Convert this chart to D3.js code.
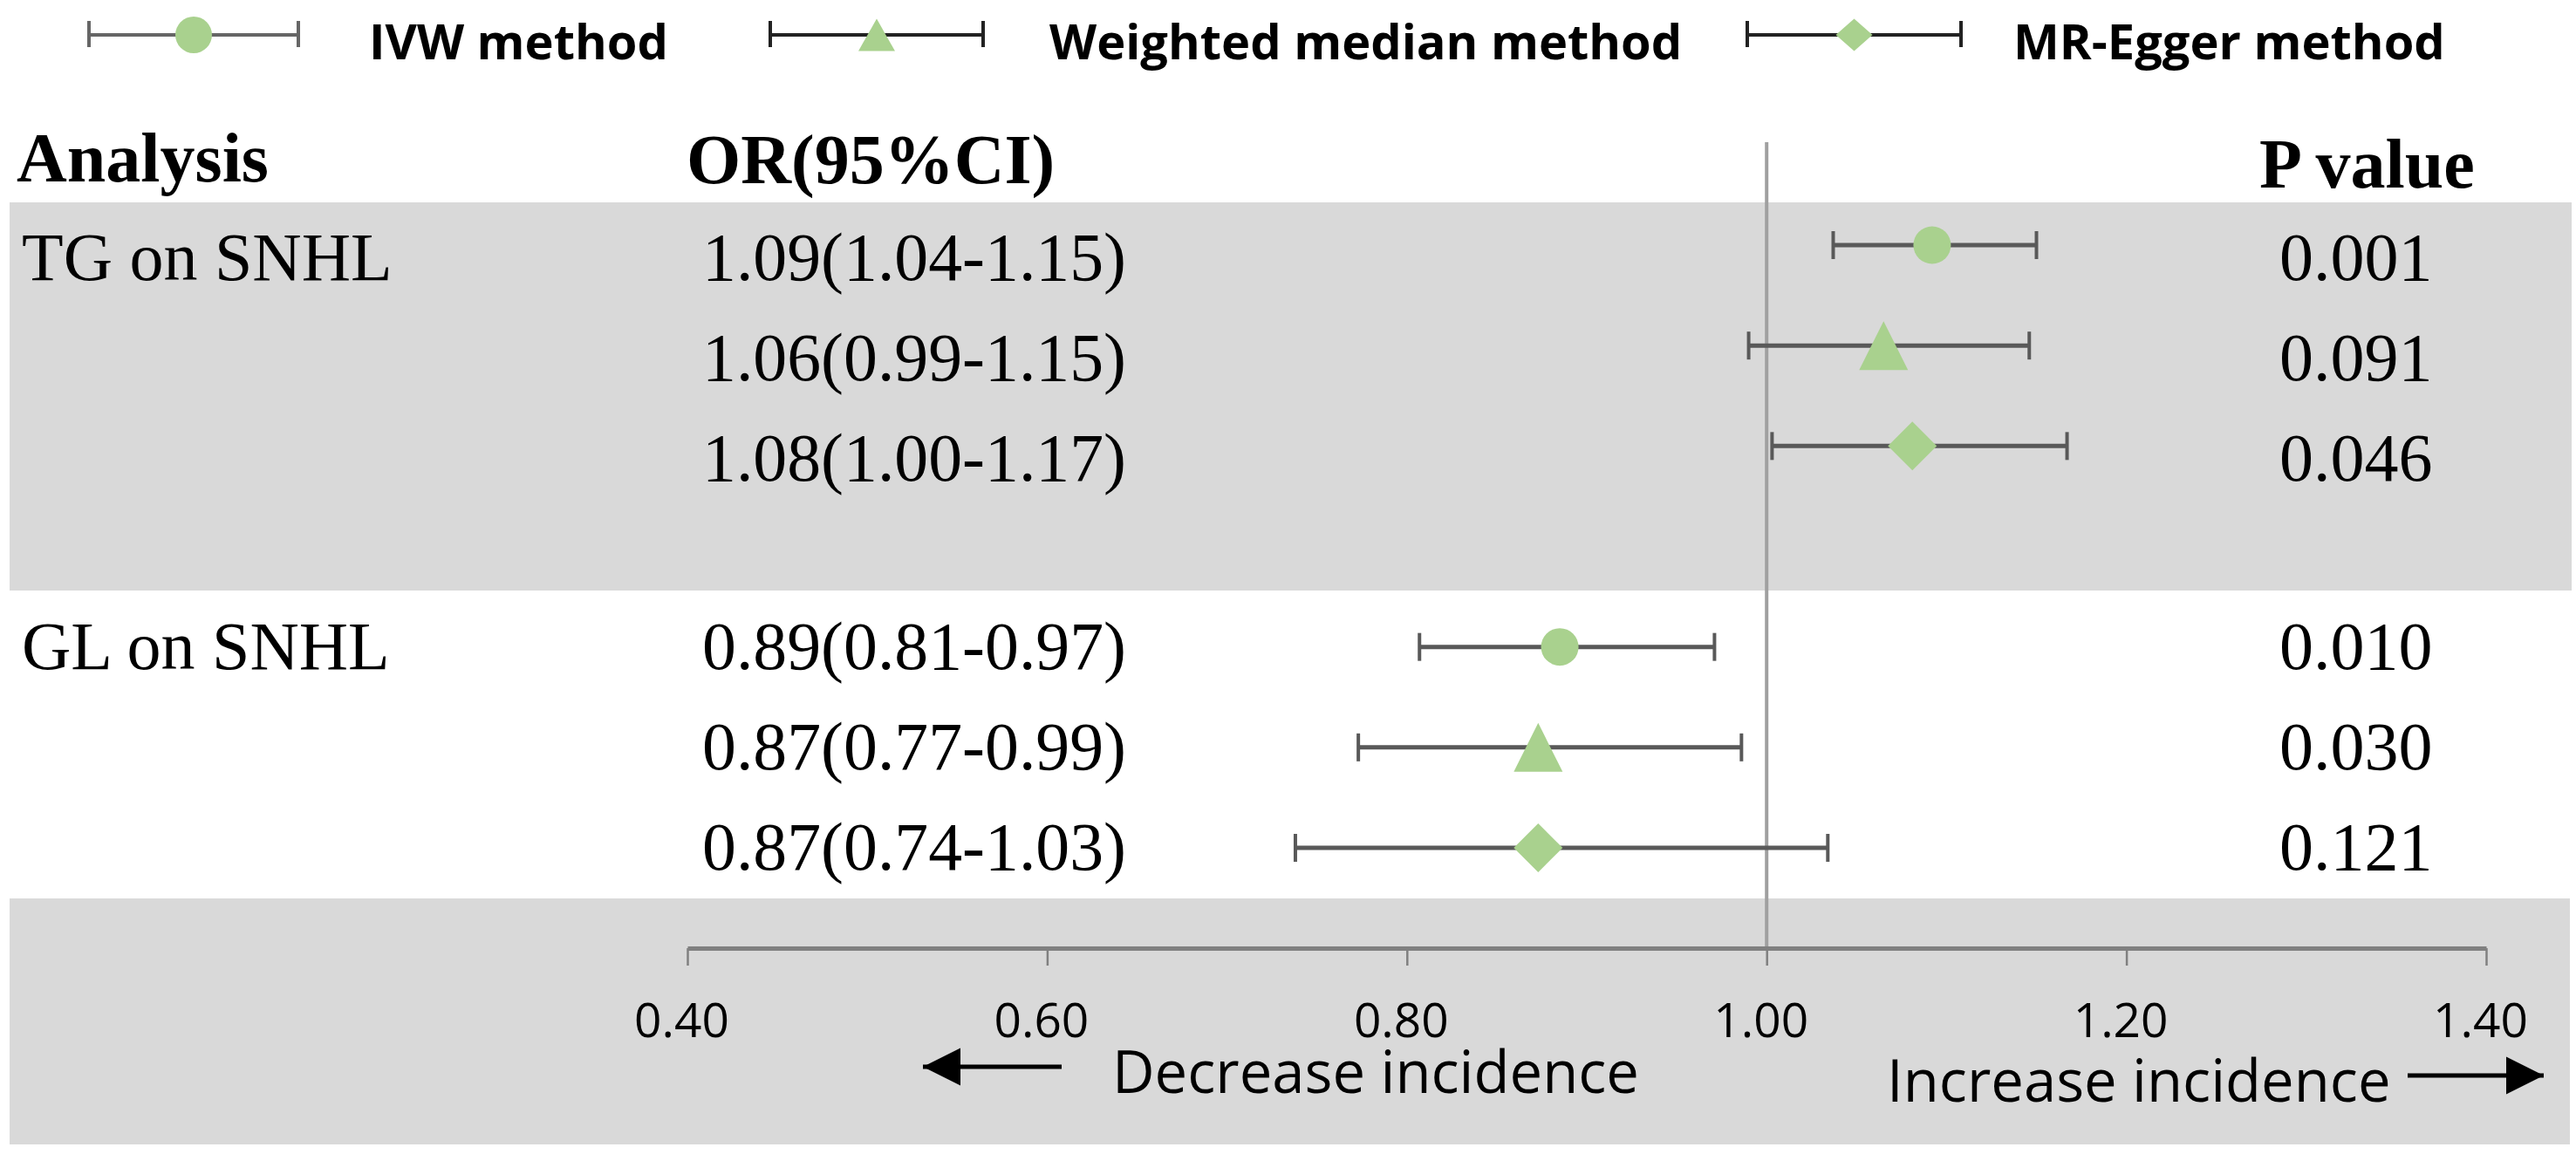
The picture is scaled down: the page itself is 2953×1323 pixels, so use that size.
<!DOCTYPE html>
<html>
<head>
<meta charset="utf-8">
<script src="https://cdn.jsdelivr.net/npm/d3@7"></script>
<style>
  html, body { margin: 0; padding: 0; background: #fff; }
  svg { display: block; }
</style>
</head>
<body>
<div id="chart"></div>
<script>
// ---- data ----
var methods = ["IVW method", "Weighted median method", "MR-Egger method"];
var analyses = ["TG on SNHL", "GL on SNHL"];
var rowAnalysis = [0, 0, 0, 1, 1, 1];
var rowMethod = [0, 1, 2, 0, 1, 2];
var orEst = [1.092, 1.065, 1.081, 0.885, 0.873, 0.873];
var orLow = [1.037, 0.990, 1.003, 0.807, 0.773, 0.738];
var orHigh = [1.150, 1.146, 1.167, 0.971, 0.986, 1.034];
var orLabels = ["1.09(1.04-1.15)", "1.06(0.99-1.15)", "1.08(1.00-1.17)",
                "0.89(0.81-0.97)", "0.87(0.77-0.99)", "0.87(0.74-1.03)"];
var pLabels = ["0.001", "0.091", "0.046", "0.010", "0.030", "0.121"];
var tickValues = [0.40, 0.60, 0.80, 1.00, 1.20, 1.40];

var width = 2953, height = 1323;
var green = "#a9d18e", barColor = "#595959", bandColor = "#d9d9d9";
var serif = "'Liberation Serif', 'Times New Roman', serif";
var sans = "'Open Sans', 'Liberation Sans', sans-serif";

var svg = d3.select("#chart").append("svg")
  .attr("width", width)
  .attr("height", height);

var x = d3.scaleLinear().domain([0.4, 1.4]).range([788, 2850]);
// rows sit on a grid, with one empty slot between the two analyses
var slot = d3.scaleLinear().domain([0, 6]).range([281, 972]);
var rows = orEst.map(function (d, i) {
  return {
    est: d, lo: orLow[i], hi: orHigh[i],
    method: rowMethod[i], analysis: rowAnalysis[i],
    or: orLabels[i], p: pLabels[i],
    y: slot(rowAnalysis[i] * 4 + rowMethod[i])
  };
});
var axisY = 1087;

// marker paths, centred on 0,0
function marker(m, big) {
  if (m === 0) {
    var r = big ? 21.5 : 21;
    return "M" + (-r) + ",0A" + r + "," + r + " 0 1,0 " + r + ",0A" + r + "," + r + " 0 1,0 " + (-r) + ",0Z";
  }
  var w = big ? 28 : 21, h = big ? 28 : 18.5;
  if (m === 1) return "M0," + (-h) + "L" + w + "," + h + "L" + (-w) + "," + h + "Z";
  return "M0," + (-h) + "L" + w + ",0L0," + h + "L" + (-w) + ",0Z";
}

// ---- shaded bands ----
svg.append("rect").attr("x", 11).attr("y", 232).attr("width", 2937).attr("height", 445).attr("fill", bandColor);
svg.append("rect").attr("x", 11).attr("y", 1030).attr("width", 2935).attr("height", 282).attr("fill", bandColor);

// ---- legend ----
var legendBars = [[102, 342], [883, 1127], [2003, 2248]];
var legendText = [423, 1203, 2308];
var legend = svg.selectAll("g.legend")
  .data(methods)
  .enter().append("g")
    .attr("class", "legend");
legend.append("line")
  .attr("x1", function (d, i) { return legendBars[i][0]; })
  .attr("x2", function (d, i) { return legendBars[i][1]; })
  .attr("y1", 40).attr("y2", 40)
  .attr("stroke", function (d, i) { return i === 0 ? "#666" : "#222"; })
  .attr("stroke-width", 4);
[0, 1].forEach(function (k) {
  legend.append("line")
    .attr("x1", function (d, i) { return legendBars[i][k]; })
    .attr("x2", function (d, i) { return legendBars[i][k]; })
    .attr("y1", 24).attr("y2", 54)
    .attr("stroke", function (d, i) { return i === 0 ? "#666" : "#222"; })
    .attr("stroke-width", 4);
});
legend.append("path")
  .attr("transform", function (d, i) {
    return "translate(" + (legendBars[i][0] + legendBars[i][1]) / 2 + ",40)";
  })
  .attr("d", function (d, i) { return marker(i, false); })
  .attr("fill", green);
legend.append("text")
  .attr("x", function (d, i) { return legendText[i]; })
  .attr("y", 68)
  .attr("font-family", sans)
  .attr("font-weight", "bold")
  .attr("font-size", 56)
  .text(function (d) { return d; });

// ---- column headers ----
var headers = [["Analysis", 19, 208], ["OR(95%CI)", 787, 210], ["P value", 2590, 215]];
svg.selectAll("text.header")
  .data(headers)
  .enter().append("text")
    .attr("class", "header")
    .attr("x", function (d) { return d[1]; })
    .attr("y", function (d) { return d[2]; })
    .attr("font-family", serif)
    .attr("font-weight", "bold")
    .attr("font-size", 80)
    .text(function (d) { return d[0]; });

// ---- reference line at OR = 1 ----
svg.append("line")
  .attr("x1", x(1)).attr("x2", x(1))
  .attr("y1", 163).attr("y2", axisY)
  .attr("stroke", "#a0a0a0")
  .attr("stroke-width", 4);

// ---- table text ----
function baseline(d) { return d.y + (d.analysis === 0 ? 40 : 25); }

svg.selectAll("text.analysis")
  .data(analyses)
  .enter().append("text")
    .attr("class", "analysis")
    .attr("x", 25)
    .attr("y", function (d, i) { return baseline(rows[i * 3]); })
    .attr("font-family", serif)
    .attr("font-size", 78)
    .text(function (d) { return d; });

svg.selectAll("text.or")
  .data(rows)
  .enter().append("text")
    .attr("class", "or")
    .attr("x", 805)
    .attr("y", baseline)
    .attr("font-family", serif)
    .attr("font-size", 78)
    .attr("textLength", 486)
    .attr("lengthAdjust", "spacingAndGlyphs")
    .text(function (d) { return d.or; });

svg.selectAll("text.p")
  .data(rows)
  .enter().append("text")
    .attr("class", "p")
    .attr("x", 2613)
    .attr("y", baseline)
    .attr("font-family", serif)
    .attr("font-size", 78)
    .text(function (d) { return d.p; });

// ---- error bars + markers ----
var bars = svg.selectAll("g.row")
  .data(rows)
  .enter().append("g")
    .attr("class", "row");
bars.append("line")
  .attr("x1", function (d) { return x(d.lo); })
  .attr("x2", function (d) { return x(d.hi); })
  .attr("y1", function (d) { return d.y; })
  .attr("y2", function (d) { return d.y; })
  .attr("stroke", barColor)
  .attr("stroke-width", 5);
["lo", "hi"].forEach(function (k) {
  bars.append("line")
    .attr("x1", function (d) { return x(d[k]); })
    .attr("x2", function (d) { return x(d[k]); })
    .attr("y1", function (d) { return d.y - 16; })
    .attr("y2", function (d) { return d.y + 16; })
    .attr("stroke", barColor)
    .attr("stroke-width", 4);
});
bars.append("path")
  .attr("transform", function (d) { return "translate(" + x(d.est) + "," + d.y + ")"; })
  .attr("d", function (d) { return marker(d.method, true); })
  .attr("fill", green);

// ---- axis ----
var axis = svg.append("g")
  .attr("transform", "translate(0," + axisY + ")")
  .call(d3.axisBottom(x)
    .tickValues(tickValues)
    .tickFormat(d3.format(".2f"))
    .tickSizeInner(20)
    .tickSizeOuter(0)
    .tickPadding(43));
axis.select(".domain").attr("stroke", "#808080").attr("stroke-width", 5);
axis.selectAll(".tick line").attr("stroke", "#808080").attr("stroke-width", 2.5);
axis.selectAll(".tick text")
  .attr("dx", -7)
  .attr("fill", "#000")
  .attr("font-family", sans)
  .attr("font-size", 55);

// ---- direction arrows ----
var defs = svg.append("defs");
defs.append("marker")
  .attr("id", "head")
  .attr("viewBox", "0 0 10 10")
  .attr("refX", 10).attr("refY", 5)
  .attr("markerUnits", "userSpaceOnUse")
  .attr("markerWidth", 43).attr("markerHeight", 44)
  .attr("orient", "auto")
  .append("path")
    .attr("d", "M0,0L10,5L0,10Z")
    .attr("fill", "#000");

svg.append("line")
  .attr("x1", 1217).attr("x2", 1058)
  .attr("y1", 1223).attr("y2", 1223)
  .attr("stroke", "#000").attr("stroke-width", 5)
  .attr("marker-end", "url(#head)");
svg.append("line")
  .attr("x1", 2760).attr("x2", 2916)
  .attr("y1", 1233).attr("y2", 1233)
  .attr("stroke", "#000").attr("stroke-width", 5)
  .attr("marker-end", "url(#head)");

svg.append("text")
  .attr("x", 1275).attr("y", 1253)
  .attr("font-family", sans).attr("font-size", 67)
  .text("Decrease incidence");
svg.append("text")
  .attr("x", 2163).attr("y", 1263)
  .attr("font-family", sans).attr("font-size", 67)
  .text("Increase incidence");
</script>
</body>
</html>
